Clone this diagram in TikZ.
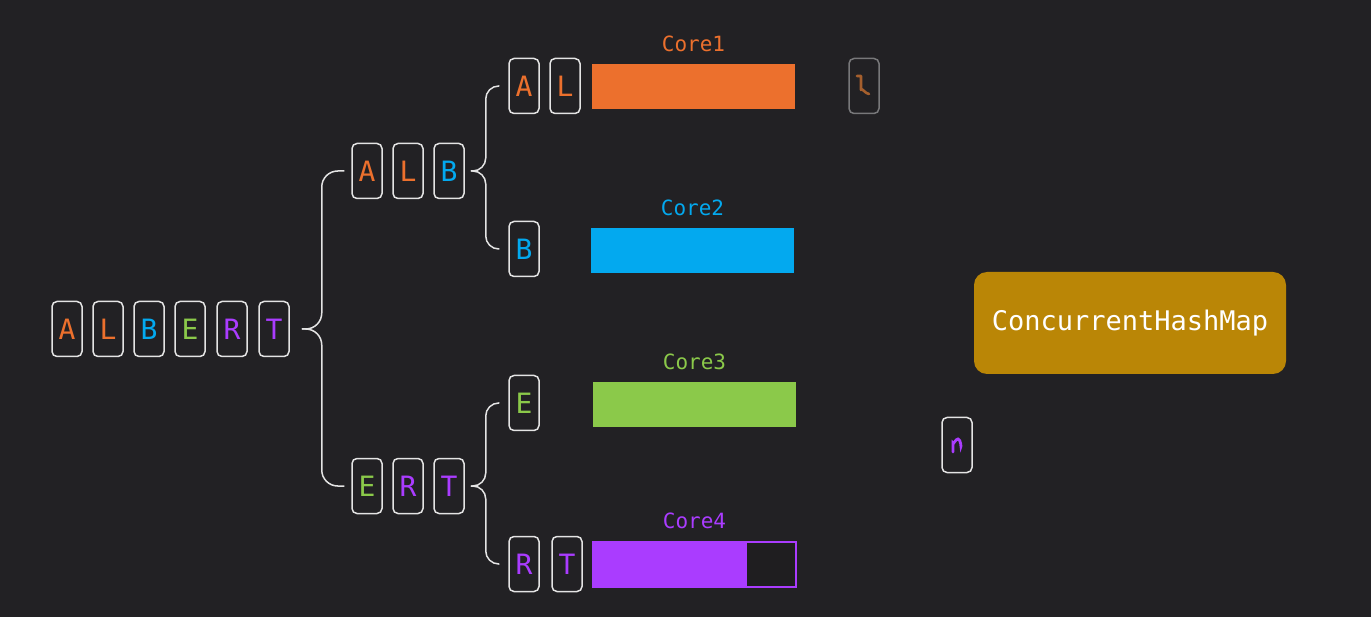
\documentclass[tikz,border=0pt]{standalone}
\usepackage{fontspec}
\setmonofont{DejaVu Sans Mono}
\usetikzlibrary{calc,positioning}
\definecolor{bg}{RGB}{34,33,36}
\definecolor{corange}{RGB}{236,112,45}
\definecolor{cblue}{RGB}{3,169,239}
\definecolor{cgreen}{RGB}{139,201,74}
\definecolor{cpurple}{RGB}{170,60,255}
\definecolor{hashgold}{RGB}{186,134,6}
\definecolor{tileline}{RGB}{228,228,228}
\definecolor{fadeline}{RGB}{120,120,122}
\definecolor{fadebrown}{RGB}{165,95,45}

\tikzset{
  tile/.style={draw=tileline, line width=1.5pt, rounded corners=5pt, minimum width=30pt,
    minimum height=55pt, inner sep=0pt, font=\fontsize{28}{28}\selectfont\ttfamily},
  brace/.style={draw=tileline, line width=1.5pt, rounded corners=16pt},
  corebar/.style={minimum width=203pt, minimum height=45pt, inner sep=0pt},
  corelabel/.style={inner sep=0pt, font=\fontsize{21}{21}\selectfont\ttfamily},
}

\begin{document}
\begin{tikzpicture}[x=1pt,y=-1pt]
  % background
  \fill[bg] (0,0) rectangle (1371,617);
  \useasboundingbox (0,0) rectangle (1371,617);
  % input word
  \foreach \l/\c/\x [count=\i] in {A/corange/67,L/corange/108,B/cblue/149,E/cgreen/190,R/cpurple/232,T/cpurple/274}
    \node[tile, text=\c] (w\i) at (\x,329) {\l};
  % first split
  \node[tile, text=corange] (a1) at (367,171) {A};
  \node[tile, text=corange] (a2) at (408,171) {L};
  \node[tile, text=cblue]   (a3) at (449,171) {B};
  \node[tile, text=cgreen]  (e1) at (367,486) {E};
  \node[tile, text=cpurple] (e2) at (408,486) {R};
  \node[tile, text=cpurple] (e3) at (449,486) {T};
  % second split
  \node[tile, text=corange] (p1) at (524,86) {A};
  \node[tile, text=corange] (p2) at (565,86) {L};
  \node[tile, text=cblue]   (q1) at (524,249) {B};
  \node[tile, text=cgreen]  (r1) at (524,403) {E};
  \node[tile, text=cpurple] (s1) at (524,564) {R};
  \node[tile, text=cpurple] (s2) at (567,564) {T};
  % braces
  \coordinate (wtip) at ($(w6.east)+(12,0)$);
  \draw[brace] ([xshift=-7pt]a1.west) -| ([xshift=20pt]wtip) -- (wtip);
  \draw[brace] ([xshift=-7pt]e1.west) -| ([xshift=20pt]wtip) -- (wtip);
  \coordinate (atip) at ($(a3.east)+(6,0)$);
  \draw[brace, rounded corners=13pt] ([xshift=-9pt]p1.west) -| ([xshift=15pt]atip) -- (atip);
  \draw[brace, rounded corners=13pt] ([xshift=-9pt]q1.west) -| ([xshift=15pt]atip) -- (atip);
  \coordinate (etip) at ($(e3.east)+(6,0)$);
  \draw[brace, rounded corners=13pt] ([xshift=-9pt]r1.west) -| ([xshift=15pt]etip) -- (etip);
  \draw[brace, rounded corners=13pt] ([xshift=-9pt]s1.west) -| ([xshift=15pt]etip) -- (etip);
  % cores
  \node[corebar, fill=corange] (core1) at (693.5,86.5) {};
  \node[corebar, fill=cblue]   (core2) at (692.5,250.5) {};
  \node[corebar, fill=cgreen]  (core3) at (694.5,404.5) {};
  \node[corebar, fill=bg!90!black, draw=cpurple, line width=1.5pt] (core4) at (694.5,564.5) {};
  \fill[cpurple] (core4.north west) rectangle ([xshift=-50pt]core4.south east);
  \node[corelabel, text=corange, above=12pt of core1] (lab1) {Core1};
  \node[corelabel, text=cblue,   above=12pt of core2] (lab2) {Core2};
  \node[corelabel, text=cgreen,  above=12pt of core3] (lab3) {Core3};
  \node[corelabel, text=cpurple, above=12pt of core4] (lab4) {Core4};
  % letters on the way to the map
  \node[tile, draw=fadeline] (g1) at (864,86) {};
  \draw[fadebrown, line width=2.6pt, line cap=round, line join=round]
    ($(g1.center)+(-7,-10)$) -- ($(g1.center)+(-3,-10)$) -- ($(g1.center)+(-3,4)$)
    to[out=90,in=180] ($(g1.center)+(5,8)$);
  \node[tile] (g2) at (957,445) {};
  \draw[cpurple, line width=2.8pt, line cap=round]
    ($(g2.center)+(-4,7)$) -- ($(g2.center)+(-4,-2)$)
    to[out=-90,in=180] ($(g2.center)+(1,-6)$) to[out=0,in=-90] ($(g2.center)+(4,1)$);
  % map
  \node[fill=hashgold, rounded corners=13pt, minimum width=312pt, minimum height=102pt,
    text=white, font=\fontsize{27}{27}\selectfont\ttfamily] (chm) at (1130,323) {ConcurrentHashMap};
\end{tikzpicture}
\end{document}
